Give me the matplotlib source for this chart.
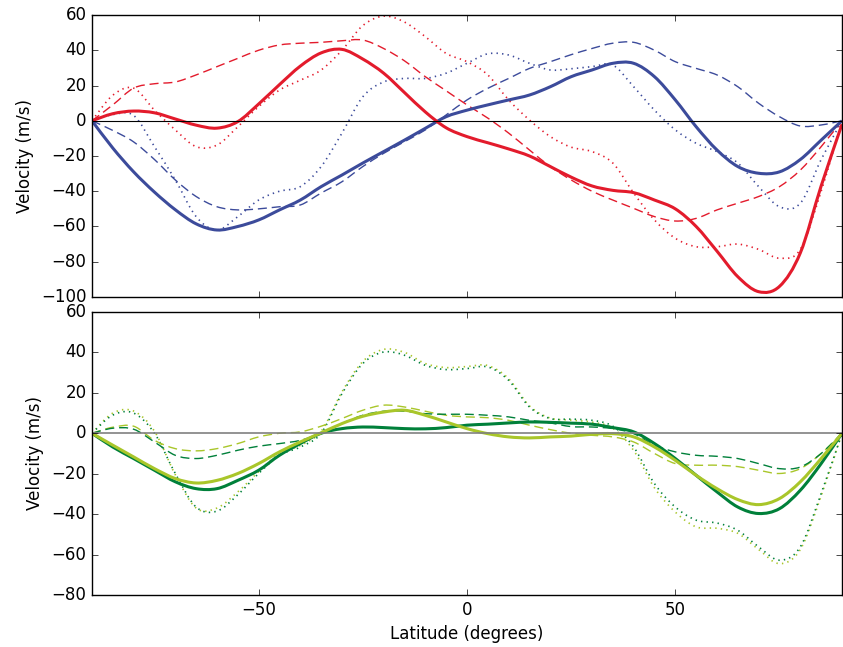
import numpy as np
import matplotlib
matplotlib.use("Agg")
import matplotlib.pyplot as plt
from matplotlib.path import Path
from matplotlib.patches import PathPatch

# latitude grid shared by every profile (degrees)
lat = np.arange(-90, 91, 5)

# upper panel: red and blue families
red_solid = [0, 4, 5.5, 4.5, 1, -2.5, -4.2, -0.5, 9.5, 20.5, 31, 38.5, 40.5,
             35, 27, 16, 5, -4, -9, -12.5, -16, -20, -26, -32, -37, -39.5,
             -40.8, -45, -50, -60, -74, -88.5, -97, -94, -75, -37, -2]
red_dash = [0, 9, 18.5, 21, 22, 26, 30.7, 35.4, 40, 43, 44, 44.5, 45.4, 45.8,
            41, 34, 25, 17, 9, 1.5, -7, -16.6, -26, -33.6, -40, -45, -49.7,
            -54.4, -56.9, -55.4, -50.6, -46.8, -43, -37.4, -28, -14.7, 0]
red_dot = [0, 14.5, 18.5, 6, -5.2, -14.7, -13.8, -3.4, 8, 17.4, 23, 28.8, 40,
           54, 59.4, 56, 47.7, 38.2, 33.5, 26, 11.8, 0.4, -9, -15, -17.5, -24,
           -41, -56.3, -66.7, -71.5, -71.5, -70, -73, -78, -73, -40, 0]
blue_solid = [0, -15.5, -29, -40.5, -50.5, -58.5, -62, -60, -56.3, -50.6, -45,
              -37.4, -30.8, -24, -17.5, -11, -4.3, 2.3, 6, 9, 11.8, 14.6, 19.3,
              25, 28.8, 32.6, 32.6, 25, 11.8, -3.4, -16.6, -26, -29.8, -29,
              -22, -11, 0]
blue_dash = [0, -5.5, -12, -22, -33.6, -43, -48.8, -50.6, -50, -48.8, -47.8,
             -41, -34.6, -26, -18.5, -11.9, -5.2, 3.3, 11.8, 18.4, 24, 29.7,
             33.5, 37.5, 41, 44, 44.5, 40, 33.5, 29.7, 26, 19.3, 9.9, 2.3, -3,
             -2.4, 0]
blue_dot = [0, 3.5, 3, -14.7, -33.6, -54.4, -62, -54.4, -45, -40, -37.4, -26,
            -7, 13.6, 22, 24, 24, 27, 32.6, 38, 37.3, 32.6, 28.8, 29.5, 30.7,
            31.6, 19.3, 6, -5.2, -12.8, -17.5, -24, -37.4, -48.8, -46.8, -22, 0]

# lower panel: dark and light green families
dkgreen_solid = [0, -6.8, -12.5, -18.3, -24, -27.4, -27.4, -23.3, -18.3, -10.9,
                 -5.1, 0, 2.3, 3.1, 2.8, 2.3, 2.2, 2.8, 4, 4.5, 5.1, 5.6, 5.4,
                 5, 4.5, 2.8, 0.7, -5.1, -12.5, -20.8, -29, -36.5, -39.7, -37.3,
                 -28.2, -15, 0]
ltgreen_solid = [0, -5.9, -11.7, -17.5, -22.4, -24.6, -23.3, -19.9, -15, -9.2,
                 -4.3, 0.2, 4.8, 8.4, 10.5, 11.4, 8.9, 5.6, 2.3, -0.2, -1.8,
                 -2.3, -1.8, -1.4, -0.5, -0.2, -1.8, -6.8, -13.4, -20.8, -27.4,
                 -32.8, -35.3, -32.3, -24, -12.5, 0]
dkgreen_dash = [0, 2.5, 2, -4.3, -10.9, -12.5, -10.9, -8.4, -6.4, -5.1, -3.5,
                0, 4.8, 8.9, 10.9, 10.9, 9.7, 9.4, 9.4, 8.9, 8.1, 6.4, 5.1, 3.3,
                3.1, 2.3, -0.2, -5.9, -9.2, -10.9, -11.4, -12.5, -15, -17.5,
                -16.7, -10, 0]
ltgreen_dash = [0, 3, 3.5, -3.5, -7.6, -8.7, -7.6, -5.1, -1.8, 0, 0.7, 3.5, 7.3,
                11.4, 13.9, 13, 10.9, 8.9, 8.1, 7.7, 6.4, 4, 1.8, 0, -1, -1.8,
                -4.3, -10, -15, -15.8, -15.8, -16.5, -18.3, -19.9, -17.5, -10, 0]
dkgreen_dot = [0, 9, 10, 0, -19.9, -36.5, -38.5, -30.4, -19.9, -10.9, -6.8, 0,
               19.6, 34.5, 40.2, 38.6, 33.6, 31.5, 32, 32.8, 26.2, 13, 7.3, 7,
               6.4, 3.5, -6.8, -24.9, -36.5, -43, -44.4, -48, -56.2, -62.8,
               -56.2, -29.8, 0]
ltgreen_dot = [0, 10, 11, 1, -20.5, -37, -37, -29, -19, -10, -6, 1, 20.5, 35.5,
               41.5, 40, 34.5, 32.5, 33, 33.5, 27, 13.5, 7.5, 6.5, 5.5, 2.5,
               -8.5, -27, -39, -46.3, -47, -49.5, -57.5, -64.5, -57.5, -31, 0]

RED = "#e31b2c"
BLUE = "#3c4b9b"
DKGREEN = "#00803a"
LTGREEN = "#a9c62a"

SOLID = dict(ls="-", lw=2.2)
DASHED = dict(ls=(0, (6.5, 3.5)), lw=1.0)
DOTTED = dict(ls=(0, (1, 3)), lw=1.2)


def smooth_line(ax, x, y, color, **style):
    """Draw y(x) as a Catmull-Rom spline rendered with cubic Bezier segments."""
    pts = np.column_stack([x, y]).astype(float)
    padded = np.vstack([pts[0], pts, pts[-1]])
    verts = [pts[0]]
    codes = [Path.MOVETO]
    for i in range(1, len(padded) - 2):
        p0, p1, p2, p3 = padded[i - 1], padded[i], padded[i + 1], padded[i + 2]
        verts += [p1 + (p2 - p0) / 6, p2 - (p3 - p1) / 6, p2]
        codes += [Path.CURVE4] * 3
    patch = PathPatch(Path(verts, codes), fill=False, edgecolor=color,
                      capstyle="butt", joinstyle="round", **style)
    ax.add_patch(patch)
    return patch


plt.style.use("classic")
plt.rcParams["font.family"] = ["DejaVu Sans"]

fig = plt.figure(figsize=(8.43, 6.47), dpi=100, facecolor="white")
ax1 = fig.add_axes([0.1091, 0.541, 0.8897, 0.4358])
ax2 = fig.add_axes([0.1091, 0.0804, 0.8897, 0.4374])

ax1.axhline(0, color="black", lw=0.8)
smooth_line(ax1, lat, blue_dot, BLUE, **DOTTED)
smooth_line(ax1, lat, blue_dash, BLUE, **DASHED)
smooth_line(ax1, lat, red_dot, RED, **DOTTED)
smooth_line(ax1, lat, red_dash, RED, **DASHED)
smooth_line(ax1, lat, blue_solid, BLUE, **SOLID)
smooth_line(ax1, lat, red_solid, RED, **SOLID)
ax1.set_ylim(-100, 60)
ax1.set_yticks(np.arange(-100, 61, 20))
ax1.set_ylabel("Velocity (m/s)")

ax2.axhline(0, color="#808080", lw=1.2)
smooth_line(ax2, lat, ltgreen_dot, LTGREEN, **DOTTED)
smooth_line(ax2, lat, dkgreen_dot, DKGREEN, **DOTTED)
smooth_line(ax2, lat, ltgreen_dash, LTGREEN, **DASHED)
smooth_line(ax2, lat, dkgreen_dash, DKGREEN, **DASHED)
smooth_line(ax2, lat, dkgreen_solid, DKGREEN, **SOLID)
smooth_line(ax2, lat, ltgreen_solid, LTGREEN, **SOLID)
ax2.set_ylim(-80, 60)
ax2.set_yticks(np.arange(-80, 61, 20))
ax2.set_ylabel("Velocity (m/s)")
ax2.set_xlabel("Latitude (degrees)")

for ax in (ax1, ax2):
    ax.set_xlim(-90, 90)
    ax.set_xticks([-50, 0, 50])
    ax.tick_params(direction="in", top=True, right=True)
ax1.set_xticklabels([])

fig.savefig("out.png", dpi=100, facecolor="white")
